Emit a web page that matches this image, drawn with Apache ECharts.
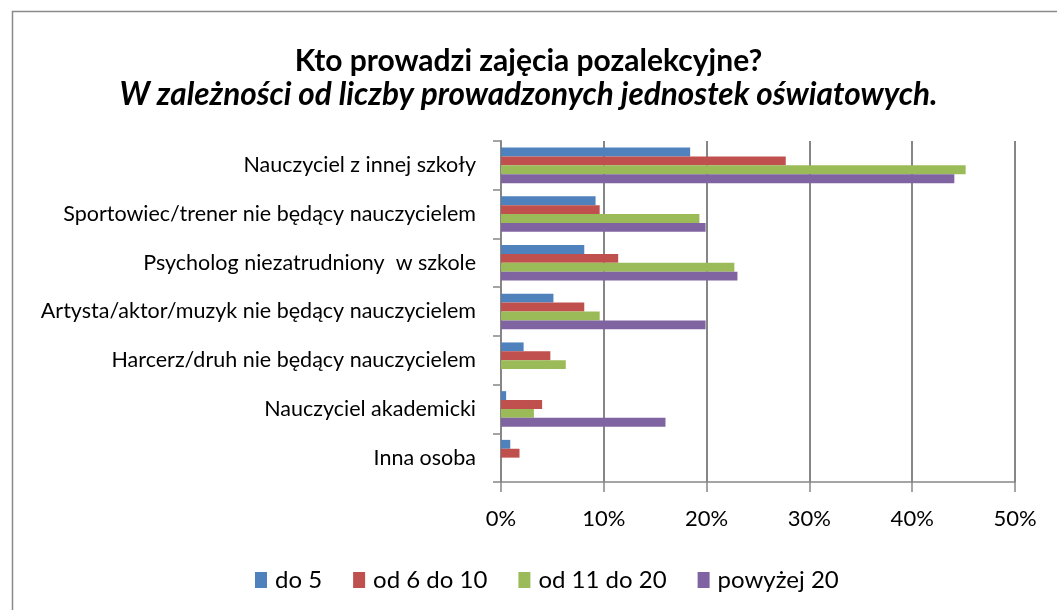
<!DOCTYPE html>
<html>
<head>
<meta charset="utf-8">
<script src="https://cdn.jsdelivr.net/npm/echarts@6/dist/echarts.min.js"></script>
<style>
	html, body { margin: 0; padding: 0; background: #fff; }
	#chart { width: 1057px; height: 610px; }
</style>
</head>
<body>
<div id="chart"></div>
<script>
// kategorie (od góry)
const categories = [
	'Nauczyciel z innej szkoły',
	'Sportowiec/trener nie będący nauczycielem',
	'Psycholog niezatrudniony  w szkole',
	'Artysta/aktor/muzyk nie będący nauczycielem',
	'Harcerz/druh nie będący nauczycielem',
	'Nauczyciel akademicki',
	'Inna osoba'
];
const seriesNames = ['do 5', 'od 6 do 10', 'od 11 do 20', 'powyżej 20'];
const do5 = [18.4, 9.2, 8.1, 5.1, 2.2, 0.5, 0.9];
const od6do10 = [27.7, 9.6, 11.4, 8.1, 4.8, 4.0, 1.8];
const od11do20 = [45.2, 19.3, 22.7, 9.6, 6.3, 3.2, 0];
const powyzej20 = [44.1, 19.9, 23.0, 19.9, 0, 16.0, 0];
const xTicks = [0, 10, 20, 30, 40, 50];

const colors = ['#4F81BD', '#C0504D', '#9BBB59', '#8064A2'];
const font = 'Lato, "Open Sans", sans-serif';
const gridColor = '#868686';

let myChart = echarts.init(document.getElementById('chart'));

const values = [do5, od6do10, od11do20, powyzej20];
let series = [];
seriesNames.forEach((name, i) => {
	series.push({
		name: name,
		type: 'bar',
		data: values[i],
		barGap: '0%',
		barCategoryGap: '27%',
		itemStyle: { color: colors[i] }
	});
});

let option = {
	backgroundColor: '#fff',
	animation: false,
	color: colors,
	title: {
		text: 'Kto prowadzi zajęcia pozalekcyjne?',
		subtext: 'W zależności od liczby prowadzonych jednostek oświatowych.',
		left: 'center',
		top: 41,
		itemGap: 3,
		textStyle: { fontFamily: font, fontSize: 30, fontWeight: 'bold', color: '#000' },
		subtextStyle: { fontFamily: font, fontSize: 31.5, fontWeight: 'bold', fontStyle: 'italic', color: '#000' }
	},
	legend: {
		data: seriesNames,
		left: 250,
		top: 563,
		itemWidth: 12,
		itemHeight: 16,
		itemGap: 31,
		icon: 'rect',
		textStyle: { fontFamily: font, fontSize: 24, color: '#000', padding: [0, 0, 0, 3] }
	},
	grid: {
		left: 501,
		right: 42,
		top: 141,
		bottom: 128,
		containLabel: false
	},
	xAxis: {
		type: 'value',
		min: 0,
		max: 50,
		interval: 10,
		axisLine: { show: true, lineStyle: { color: gridColor, width: 1.5 } },
		axisTick: { show: true, length: 10, lineStyle: { color: gridColor, width: 1.5 } },
		axisLabel: {
			margin: 26,
			fontFamily: font,
			fontSize: 22,
			color: '#000',
			formatter: v => xTicks.indexOf(v) >= 0 ? v + '%' : ''
		},
		splitLine: { show: true, lineStyle: { color: gridColor, width: 2 } }
	},
	yAxis: {
		type: 'category',
		data: categories,
		inverse: true,
		axisLine: { show: true, lineStyle: { color: gridColor, width: 2 } },
		axisTick: { show: true, length: 8, lineStyle: { color: gridColor, width: 1.5 } },
		axisLabel: { margin: 25, fontFamily: font, fontSize: 21.5, color: '#000' }
	},
	graphic: [{
		type: 'rect',
		shape: { x: 12.5, y: 11.5, width: 1060, height: 620 },
		style: { fill: 'none', stroke: '#8a8a8a', lineWidth: 1.5 },
		silent: true
	}],
	series: series
};

myChart.setOption(option);
</script>
</body>
</html>
